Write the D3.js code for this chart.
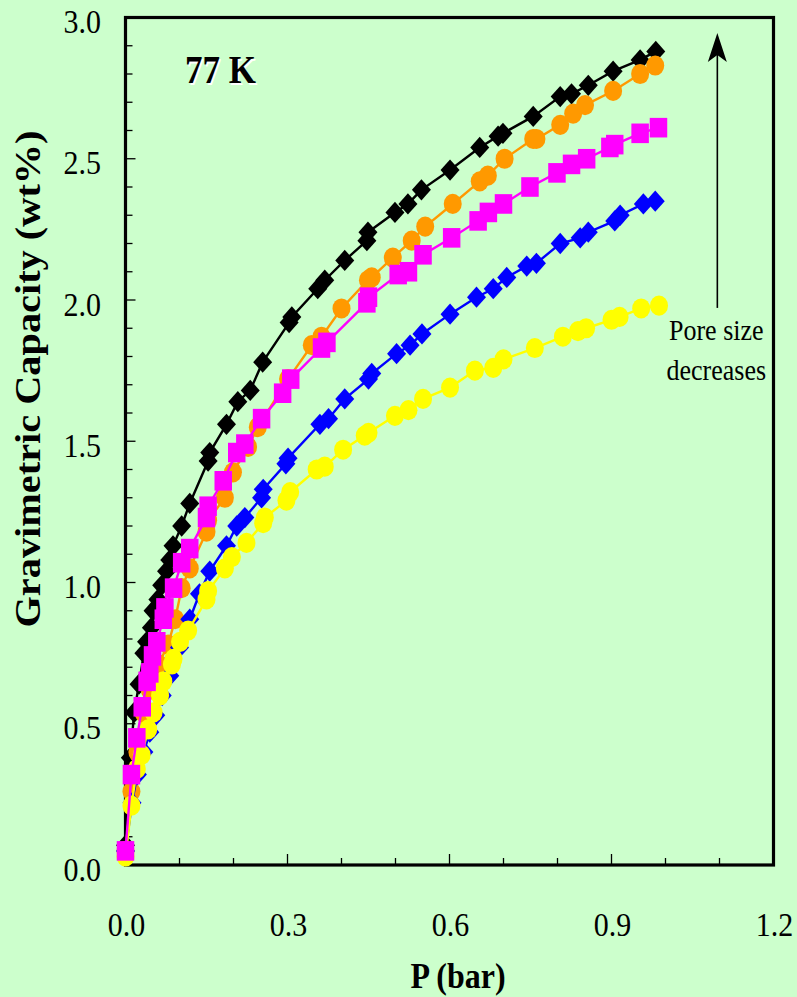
<!DOCTYPE html>
<html><head><meta charset="utf-8">
<script src="https://cdn.jsdelivr.net/npm/d3@7"></script>
<style>
html,body{margin:0;padding:0;background:#CCFFCC;}
svg{display:block;}
</style></head>
<body>
<svg id="chart" width="797" height="997"></svg>
<script>
// ---------- DATA ----------
const xTickValues = [0.0, 0.3, 0.6, 0.9, 1.2];
const yTickValues = [0.0, 0.5, 1.0, 1.5, 2.0, 2.5, 3.0];
const title = "77 K";
const xTitle = "P (bar)";
const yTitle = "Gravimetric Capacity (wt%)";
const noteLines = ["Pore size", "decreases"];

const pBlack = [0,0.009,0.016,0.025,0.034,0.039,0.048,0.051,0.060,0.067,0.076,0.082,0.088,0.104,0.119,0.153,0.156,0.187,0.208,0.231,0.254,0.303,0.308,0.356,0.369,0.406,0.447,0.449,0.499,0.523,0.548,0.601,0.656,0.690,0.699,0.755,0.805,0.826,0.857,0.903,0.953,0.982];
const wBlack = [0.07,0.38,0.54,0.64,0.75,0.79,0.84,0.90,0.94,0.99,1.04,1.08,1.13,1.20,1.28,1.43,1.46,1.56,1.64,1.68,1.78,1.92,1.94,2.04,2.07,2.14,2.21,2.24,2.31,2.34,2.39,2.46,2.54,2.58,2.59,2.65,2.72,2.73,2.76,2.81,2.85,2.88];

const pOrange = [0,0.011,0.022,0.033,0.045,0.061,0.079,0.092,0.104,0.119,0.150,0.153,0.184,0.199,0.227,0.245,0.301,0.345,0.363,0.400,0.449,0.456,0.495,0.530,0.555,0.606,0.656,0.671,0.702,0.755,0.761,0.805,0.829,0.851,0.903,0.953,0.981];
const wOrange = [0.05,0.26,0.40,0.54,0.62,0.71,0.78,0.87,0.98,1.05,1.18,1.22,1.30,1.39,1.48,1.55,1.72,1.84,1.87,1.97,2.07,2.08,2.15,2.21,2.26,2.34,2.42,2.44,2.50,2.57,2.57,2.62,2.66,2.69,2.74,2.80,2.83];

const pMagenta = [0,0.011,0.021,0.031,0.040,0.045,0.050,0.058,0.070,0.073,0.089,0.104,0.119,0.150,0.153,0.181,0.206,0.221,0.252,0.291,0.306,0.363,0.373,0.447,0.450,0.505,0.524,0.551,0.604,0.653,0.672,0.700,0.749,0.799,0.826,0.854,0.897,0.906,0.953,0.987];
const wMagenta = [0.05,0.32,0.45,0.56,0.65,0.68,0.74,0.79,0.87,0.91,0.98,1.07,1.12,1.23,1.27,1.36,1.46,1.49,1.58,1.67,1.72,1.83,1.85,1.99,2.01,2.09,2.10,2.16,2.22,2.28,2.31,2.34,2.40,2.45,2.48,2.50,2.54,2.55,2.59,2.61];

const pBlue = [0,0.012,0.022,0.034,0.045,0.056,0.068,0.082,0.100,0.119,0.137,0.156,0.187,0.206,0.221,0.252,0.255,0.297,0.301,0.360,0.376,0.406,0.450,0.456,0.502,0.527,0.549,0.601,0.650,0.681,0.706,0.743,0.761,0.805,0.842,0.857,0.906,0.916,0.959,0.981];
const wBlue = [0.05,0.22,0.32,0.40,0.47,0.53,0.60,0.67,0.77,0.87,0.96,1.04,1.13,1.20,1.23,1.30,1.33,1.42,1.44,1.56,1.58,1.65,1.72,1.74,1.81,1.84,1.88,1.95,2.01,2.04,2.08,2.12,2.13,2.20,2.22,2.24,2.28,2.30,2.34,2.35];

const pYellow = [0,0.011,0.021,0.030,0.042,0.052,0.064,0.070,0.086,0.089,0.101,0.116,0.150,0.153,0.184,0.197,0.224,0.255,0.258,0.298,0.305,0.354,0.369,0.403,0.443,0.450,0.499,0.524,0.551,0.601,0.647,0.681,0.700,0.758,0.810,0.838,0.853,0.900,0.915,0.955,0.988];
const wYellow = [0.03,0.21,0.34,0.39,0.48,0.54,0.60,0.65,0.71,0.73,0.79,0.83,0.94,0.97,1.05,1.09,1.14,1.21,1.23,1.29,1.32,1.40,1.41,1.47,1.52,1.53,1.59,1.61,1.65,1.69,1.75,1.76,1.79,1.83,1.87,1.89,1.90,1.93,1.94,1.97,1.98];

// annotation anchor positions in data units
const notePos = {p: 1.094, w: [1.858, 1.717]};
const arrowPos = {p: 1.096, from: 1.972, to: 2.945};
const titlePos = {p: 0.11, w: 2.767};

// ---------- LAYOUT ----------
const FONT = "'Liberation Serif','Times New Roman',serif";
const svg = d3.select("#chart");
const L = 125.5, R = 773.5, T = 17.5, B = 865;
const SY = 1.12; // vertical text stretch
const x = d3.scaleLinear().domain([0, 1.2]).range([L, R]);
const y = d3.scaleLinear().domain([0, 3.0]).range([B, T]);

function stext(g, tx, ty, str, size, weight, anchor, fill) {
  return g.append("text")
    .attr("transform", `translate(${tx},${ty}) scale(1,${SY})`)
    .style("font-family", FONT)
    .attr("font-size", size).attr("font-weight", weight || "normal")
    .attr("text-anchor", anchor || "start")
    .style("fill", fill || "#000").text(str);
}

// axes with inward ticks
const xMinor = d3.range(0, 13).map(i => i / 10);
const yMinor = d3.range(0, 31).map(i => i / 10);
const axG = svg.append("g");
axG.selectAll("line.xt").data(xMinor).enter().append("line")
  .attr("x1", d => x(d)).attr("x2", d => x(d))
  .attr("y1", B).attr("y2", (d, i) => B - (i % 3 === 0 ? 11 : 7))
  .attr("stroke", "#000").attr("stroke-width", 1.3);
axG.selectAll("line.yt").data(yMinor).enter().append("line")
  .attr("y1", d => y(d)).attr("y2", d => y(d))
  .attr("x1", L).attr("x2", (d, i) => L + (i % 5 === 0 ? 10 : 7))
  .attr("stroke", "#000").attr("stroke-width", 1.3);
axG.append("rect").attr("x", L).attr("y", T).attr("width", R - L).attr("height", B - T)
  .attr("fill", "none").attr("stroke", "#000").attr("stroke-width", 3.2);

// tick labels
xTickValues.forEach(v => stext(svg, x(v) + 1, 936, v.toFixed(1), 30, "normal", "middle"));
yTickValues.forEach(v => stext(svg, 101, y(v) + 15.5, v.toFixed(1), 30, "normal", "end"));

// axis titles
stext(svg, 458, 988, xTitle, 32, "bold", "middle");
svg.append("text")
  .attr("transform", `translate(40,379) scale(1,${SY}) rotate(-90)`)
  .style("font-family", FONT)
  .attr("font-size", 36).attr("font-weight", "bold").attr("text-anchor", "middle")
  .text(yTitle);

// ---------- SERIES ----------
function diamond(s) { const a = s / 2; return `M0,${-a}L${a},0L0,${a}L${-a},0Z`; }
function square(s) { const a = s / 2; return `M${-a},${-a}H${a}V${a}H${-a}Z`; }
function circle(s) { const r = s / 2; return `M${-r},0A${r},${r} 0 1,0 ${r},0A${r},${r} 0 1,0 ${-r},0Z`; }

const series = [
  {name: "black", p: pBlack, w: wBlack, color: "#000000", shape: diamond, size: 19},
  {name: "orange", p: pOrange, w: wOrange, color: "#FF9900", shape: circle, size: 18},
  {name: "blue", p: pBlue, w: wBlue, color: "#0000FF", shape: diamond, size: 19},
  {name: "yellow", p: pYellow, w: wYellow, color: "#FFFF00", shape: circle, size: 18},
  {name: "magenta", p: pMagenta, w: wMagenta, color: "#FF00FF", shape: square, size: 17.5}
];

const line = d3.line().x(d => x(d[0])).y(d => y(d[1])).curve(d3.curveLinear);

series.forEach(s => {
  const pts = s.p.map((p, i) => [p, s.w[i]]);
  const g = svg.append("g");
  g.append("path").datum(pts).attr("d", line)
    .attr("fill", "none").attr("stroke", s.color).attr("stroke-width", 2.4);
  g.selectAll("path.m").data(pts).enter().append("path")
    .attr("transform", d => `translate(${x(d[0])},${y(d[1])}) scale(1,${SY})`)
    .attr("d", s.shape(s.size)).attr("fill", s.color);
});

// ---------- ANNOTATIONS ----------
stext(svg, x(titlePos.p) + 1.5, y(titlePos.w) + 1.5, title, 35, "bold", "start", "#fff");
stext(svg, x(titlePos.p), y(titlePos.w), title, 35, "bold", "start");

const ax = x(arrowPos.p), ay0 = y(arrowPos.from), ay1 = y(arrowPos.to);
svg.append("line").attr("x1", ax).attr("x2", ax).attr("y1", ay0).attr("y2", ay1 + 20)
  .attr("stroke", "#000").attr("stroke-width", 1.6);
svg.append("path")
  .attr("d", `M${ax},${ay1}L${ax - 9.5},${ay1 + 29}L${ax},${ay1 + 22}L${ax + 9.5},${ay1 + 29}Z`)
  .attr("fill", "#000");

noteLines.forEach((t, i) => stext(svg, x(notePos.p), y(notePos.w[i]), t, 26, "normal", "middle"));
</script>
</body></html>
